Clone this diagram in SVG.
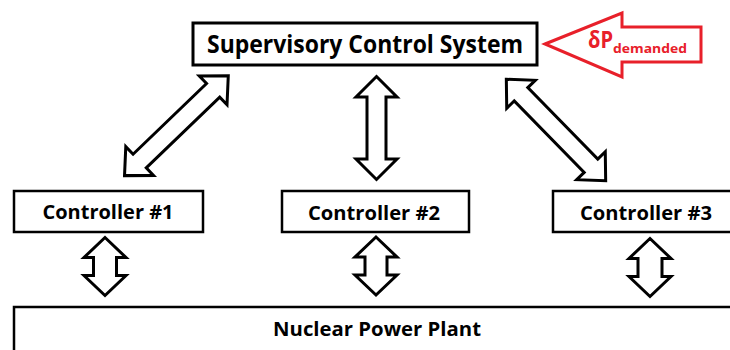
<svg xmlns="http://www.w3.org/2000/svg" width="730" height="350" viewBox="0 0 730 350">
<defs>
<style>
.box{fill:#fff;stroke:#000;stroke-width:2.5}
.lbl{font-family:"Open Sans","Liberation Sans",sans-serif;font-weight:bold;fill:#000;text-anchor:middle}
.arr{fill:#fff;stroke:#000;stroke-width:3;stroke-linejoin:miter}
.red{fill:#fff;stroke:#e8202a;stroke-width:3}
.rtxt{font-family:"Open Sans","Liberation Sans",sans-serif;font-weight:bold;fill:#e8202a}
</style>
</defs>
<rect width="730" height="350" fill="#fff"/>
<g id="supervisory">
<rect class="box" x="193" y="23" width="344" height="42" style="stroke-width:3"/>
<text class="lbl" x="365" y="53" font-size="25" textLength="316" lengthAdjust="spacingAndGlyphs">Supervisory Control System</text>
</g>
<g id="demand">
<polygon class="red" points="545,44 622,13 622,27 701,27 701,62 622,62 622,77"/>
<text class="rtxt" x="588" y="48" font-size="24" textLength="25" lengthAdjust="spacingAndGlyphs">δP</text>
<text class="rtxt" x="613" y="53" font-size="13" textLength="74" lengthAdjust="spacingAndGlyphs">demanded</text>
</g>
<g id="controller1">
<rect class="box" x="14" y="191" width="189" height="41"/>
<text class="lbl" x="108" y="219" font-size="19.5" textLength="131" lengthAdjust="spacingAndGlyphs">Controller #1</text>
</g>
<g id="controller2">
<rect class="box" x="282" y="191" width="187" height="41"/>
<text class="lbl" x="374" y="220" font-size="19.5" textLength="132" lengthAdjust="spacingAndGlyphs">Controller #2</text>
</g>
<g id="controller3">
<rect class="box" x="553" y="191" width="190" height="41"/>
<text class="lbl" x="646" y="220" font-size="19.5" textLength="132" lengthAdjust="spacingAndGlyphs">Controller #3</text>
</g>
<g id="plant">
<rect class="box" x="14" y="307" width="730" height="60"/>
<text class="lbl" x="377" y="336" font-size="19.5" textLength="208" lengthAdjust="spacingAndGlyphs">Nuclear Power Plant</text>
</g>
<g id="connectors">
<path class="arr" transform="translate(176.4,125.7) rotate(46.1)" d="M0,-72 L20,-51 L9.5,-51 L9.5,51 L20,51 L0,72 L-20,51 L-9.5,51 L-9.5,-51 L-20,-51 Z"/>
<path class="arr" transform="translate(376.5,128)" d="M0,-51.5 L20.5,-31 L9.5,-31 L9.5,31 L20.5,31 L0,51.5 L-20.5,31 L-9.5,31 L-9.5,-31 L-20.5,-31 Z"/>
<path class="arr" transform="translate(556,130) rotate(-44.4)" d="M0,-71 L20,-50 L9.5,-50 L9.5,50 L20,50 L0,71 L-20,50 L-9.5,50 L-9.5,-50 L-20,-50 Z"/>
<path class="arr" transform="translate(105,266.5)" d="M0,-29 L21,-9 L11.5,-9 L11.5,9 L21,9 L0,29 L-21,9 L-11.5,9 L-11.5,-9 L-21,-9 Z"/>
<path class="arr" transform="translate(376,266)" d="M0,-29 L21,-9 L11,-9 L11,9 L21,9 L0,29 L-21,9 L-11,9 L-11,-9 L-21,-9 Z"/>
<path class="arr" transform="translate(650,267.5)" d="M0,-29 L21,-9 L12,-9 L12,9 L21,9 L0,29 L-21,9 L-12,9 L-12,-9 L-21,-9 Z"/>
</g>
</svg>
